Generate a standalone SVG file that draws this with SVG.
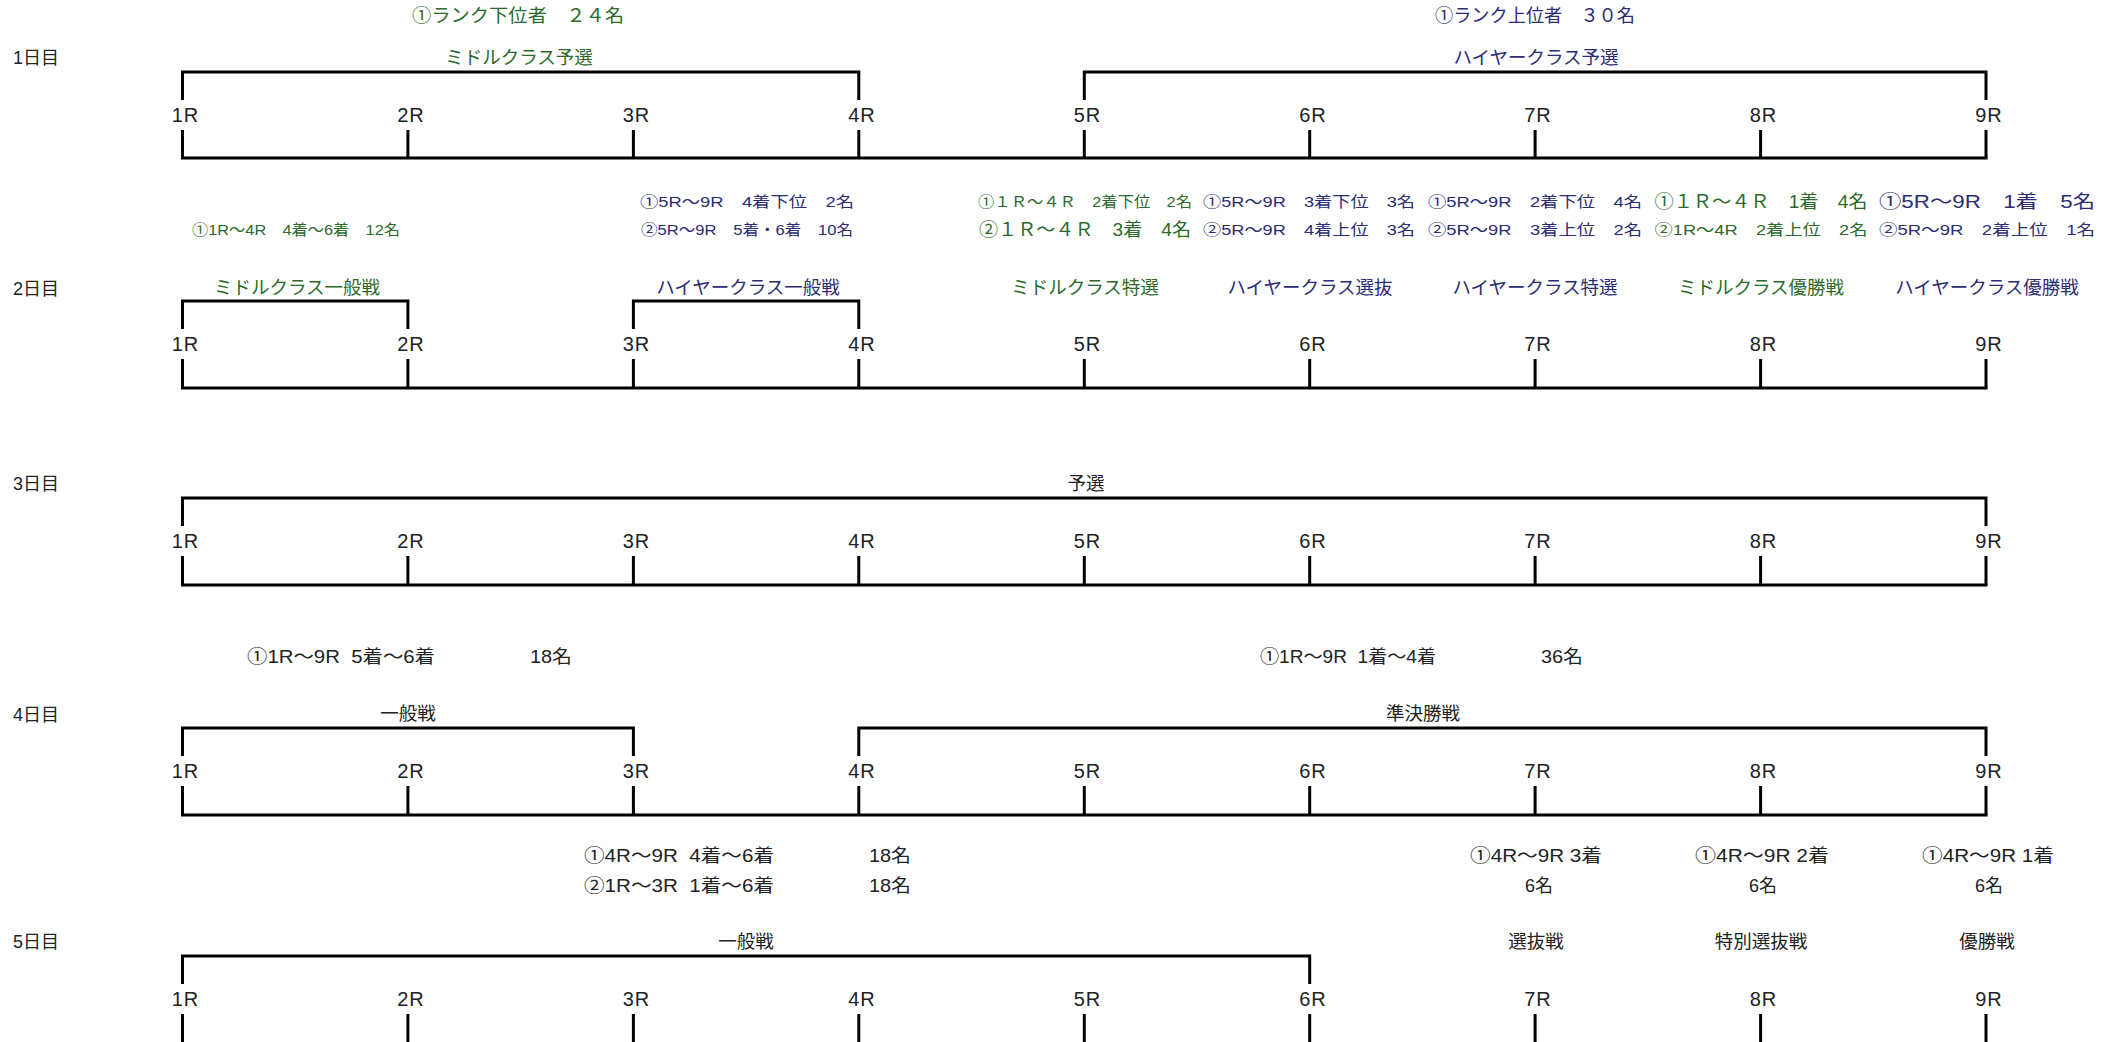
<svg xmlns="http://www.w3.org/2000/svg" width="2115" height="1042" viewBox="0 0 2115 1042">
<style>
text{font-family:"Liberation Sans","Noto Sans CJK JP",sans-serif;}
.g{fill:#2b6a2b;}
.n{fill:#2c2c74;}
.k{fill:#222;}
.day{font-size:18px;fill:#222;}
.lab{font-size:18.5px;text-anchor:middle;}
.r{font-size:20px;text-anchor:middle;fill:#222;letter-spacing:1px;}
.s{font-size:15px;text-anchor:middle;}
.b{font-size:18px;text-anchor:middle;}
.m{font-size:18px;}
.ln{fill:none;stroke:#000;stroke-width:3;}
</style>
<g id="connectors" class="ln">
  <path d="M182.5 100V72H858.8V100"/>
  <path d="M1084.3 100V72H1986V100"/>
  <path d="M182.5 130V158M407.9 130V158M633.4 130V158M858.8 130V158M1084.3 130V158M1309.7 130V158M1535.1 130V158M1760.6 130V158M1986 130V158"/>
  <path d="M181 158H1987.5"/>
  <path d="M182.5 329V301H407.9V329"/>
  <path d="M633.4 329V301H858.8V329"/>
  <path d="M182.5 359V388M407.9 359V388M633.4 359V388M858.8 359V388M1084.3 359V388M1309.7 359V388M1535.1 359V388M1760.6 359V388M1986 359V388"/>
  <path d="M181 388H1987.5"/>
  <path d="M182.5 526V498H1986V526"/>
  <path d="M182.5 556V585M407.9 556V585M633.4 556V585M858.8 556V585M1084.3 556V585M1309.7 556V585M1535.1 556V585M1760.6 556V585M1986 556V585"/>
  <path d="M181 585H1987.5"/>
  <path d="M182.5 756V728H633.4V756"/>
  <path d="M858.8 756V728H1986V756"/>
  <path d="M182.5 786V815M407.9 786V815M633.4 786V815M858.8 786V815M1084.3 786V815M1309.7 786V815M1535.1 786V815M1760.6 786V815M1986 786V815"/>
  <path d="M181 815H1987.5"/>
  <path d="M182.5 984V956H1309.7V984"/>
  <path d="M182.5 1014V1044M407.9 1014V1044M633.4 1014V1044M858.8 1014V1044M1084.3 1014V1044M1309.7 1014V1044M1535.1 1014V1044M1760.6 1014V1044M1986 1014V1044"/>
</g>
<g id="day1">
  <text class="day" x="13" y="64">1日目</text>
  <text class="lab g" x="518" y="22" textLength="212" lengthAdjust="spacingAndGlyphs">①ランク下位者　２４名</text>
  <text class="lab n" x="1535" y="22" textLength="200" lengthAdjust="spacingAndGlyphs">①ランク上位者　３０名</text>
  <text class="lab g" x="519" y="64">ミドルクラス予選</text>
  <text class="lab n" x="1536" y="64">ハイヤークラス予選</text>
  <g class="r">
    <text x="185.5" y="122">1R</text><text x="411" y="122">2R</text><text x="636.5" y="122">3R</text><text x="862" y="122">4R</text><text x="1087.5" y="122">5R</text><text x="1313" y="122">6R</text><text x="1538" y="122">7R</text><text x="1763.5" y="122">8R</text><text x="1989" y="122">9R</text>
  </g>
</g>
<g id="day2">
  <text class="s g" x="296" y="235" font-size="13" textLength="208" lengthAdjust="spacingAndGlyphs">①1R～4R　4着～6着　12名</text>
  <text class="s n" x="747" y="207" textLength="214" lengthAdjust="spacingAndGlyphs">①5R～9R　4着下位　2名</text>
  <text class="s n" x="747" y="235" font-size="14" textLength="212" lengthAdjust="spacingAndGlyphs">②5R～9R　5着・6着　10名</text>
  <text class="s g" x="1085" y="207" textLength="214" lengthAdjust="spacingAndGlyphs">①１Ｒ～４Ｒ　2着下位　2名</text>
  <text class="b g" x="1085" y="236" textLength="212" lengthAdjust="spacingAndGlyphs">②１Ｒ～４Ｒ　3着　4名</text>
  <text class="s n" x="1309" y="207" textLength="212" lengthAdjust="spacingAndGlyphs">①5R～9R　3着下位　3名</text>
  <text class="s n" x="1309" y="235" textLength="212" lengthAdjust="spacingAndGlyphs">②5R～9R　4着上位　3名</text>
  <text class="s n" x="1535" y="207" textLength="214" lengthAdjust="spacingAndGlyphs">①5R～9R　2着下位　4名</text>
  <text class="s n" x="1535" y="235" textLength="214" lengthAdjust="spacingAndGlyphs">②5R～9R　3着上位　2名</text>
  <text class="b g" x="1761" y="208" textLength="213" lengthAdjust="spacingAndGlyphs">①１Ｒ～４Ｒ　1着　4名</text>
  <text class="s g" x="1761" y="235" textLength="213" lengthAdjust="spacingAndGlyphs">②1R～4R　2着上位　2名</text>
  <text class="b n" x="1987" y="208" textLength="216" lengthAdjust="spacingAndGlyphs">①5R～9R　1着　5名</text>
  <text class="s n" x="1987" y="235" textLength="216" lengthAdjust="spacingAndGlyphs">②5R～9R　2着上位　1名</text>
  <text class="day" x="13" y="295">2日目</text>
  <text class="lab g" x="297" y="294">ミドルクラス一般戦</text>
  <text class="lab n" x="748" y="294">ハイヤークラス一般戦</text>
  <text class="lab g" x="1085" y="294">ミドルクラス特選</text>
  <text class="lab n" x="1310" y="294">ハイヤークラス選抜</text>
  <text class="lab n" x="1535" y="294">ハイヤークラス特選</text>
  <text class="lab g" x="1761" y="294">ミドルクラス優勝戦</text>
  <text class="lab n" x="1987" y="294">ハイヤークラス優勝戦</text>
  <g class="r">
    <text x="185.5" y="351">1R</text><text x="411" y="351">2R</text><text x="636.5" y="351">3R</text><text x="862" y="351">4R</text><text x="1087.5" y="351">5R</text><text x="1313" y="351">6R</text><text x="1538" y="351">7R</text><text x="1763.5" y="351">8R</text><text x="1989" y="351">9R</text>
  </g>
</g>
<g id="day3">
  <text class="day" x="13" y="490">3日目</text>
  <text class="lab k" x="1086" y="490">予選</text>
  <g class="r">
    <text x="185.5" y="548">1R</text><text x="411" y="548">2R</text><text x="636.5" y="548">3R</text><text x="862" y="548">4R</text><text x="1087.5" y="548">5R</text><text x="1313" y="548">6R</text><text x="1538" y="548">7R</text><text x="1763.5" y="548">8R</text><text x="1989" y="548">9R</text>
  </g>
  <text class="m k" x="247" y="663" textLength="188" lengthAdjust="spacingAndGlyphs" xml:space="preserve">①1R～9R  5着～6着</text>
  <text class="m k" x="530" y="663" textLength="42" lengthAdjust="spacingAndGlyphs">18名</text>
  <text class="m k" x="1260" y="663" textLength="176" lengthAdjust="spacingAndGlyphs" xml:space="preserve">①1R～9R  1着～4着</text>
  <text class="m k" x="1541" y="663" textLength="42" lengthAdjust="spacingAndGlyphs">36名</text>
</g>
<g id="day4">
  <text class="day" x="13" y="721">4日目</text>
  <text class="lab k" x="408" y="720">一般戦</text>
  <text class="lab k" x="1423" y="720">準決勝戦</text>
  <g class="r">
    <text x="185.5" y="778">1R</text><text x="411" y="778">2R</text><text x="636.5" y="778">3R</text><text x="862" y="778">4R</text><text x="1087.5" y="778">5R</text><text x="1313" y="778">6R</text><text x="1538" y="778">7R</text><text x="1763.5" y="778">8R</text><text x="1989" y="778">9R</text>
  </g>
  <text class="m k" x="584" y="862" textLength="190" lengthAdjust="spacingAndGlyphs" xml:space="preserve">①4R～9R  4着～6着</text>
  <text class="m k" x="869" y="862" textLength="42" lengthAdjust="spacingAndGlyphs">18名</text>
  <text class="m k" x="584" y="892" textLength="190" lengthAdjust="spacingAndGlyphs" xml:space="preserve">②1R～3R  1着～6着</text>
  <text class="m k" x="869" y="892" textLength="42" lengthAdjust="spacingAndGlyphs">18名</text>
  <text class="b k" x="1536" y="862" textLength="132" lengthAdjust="spacingAndGlyphs">①4R～9R 3着</text>
  <text class="b k" x="1539" y="892">6名</text>
  <text class="b k" x="1762" y="862" textLength="134" lengthAdjust="spacingAndGlyphs">①4R～9R 2着</text>
  <text class="b k" x="1763" y="892">6名</text>
  <text class="b k" x="1988" y="862" textLength="132" lengthAdjust="spacingAndGlyphs">①4R～9R 1着</text>
  <text class="b k" x="1989" y="892">6名</text>
</g>
<g id="day5">
  <text class="day" x="13" y="948">5日目</text>
  <text class="lab k" x="746" y="948">一般戦</text>
  <text class="lab k" x="1536" y="948">選抜戦</text>
  <text class="lab k" x="1761" y="948">特別選抜戦</text>
  <text class="lab k" x="1987" y="948">優勝戦</text>
  <g class="r">
    <text x="185.5" y="1006">1R</text><text x="411" y="1006">2R</text><text x="636.5" y="1006">3R</text><text x="862" y="1006">4R</text><text x="1087.5" y="1006">5R</text><text x="1313" y="1006">6R</text><text x="1538" y="1006">7R</text><text x="1763.5" y="1006">8R</text><text x="1989" y="1006">9R</text>
  </g>
</g>
</svg>
